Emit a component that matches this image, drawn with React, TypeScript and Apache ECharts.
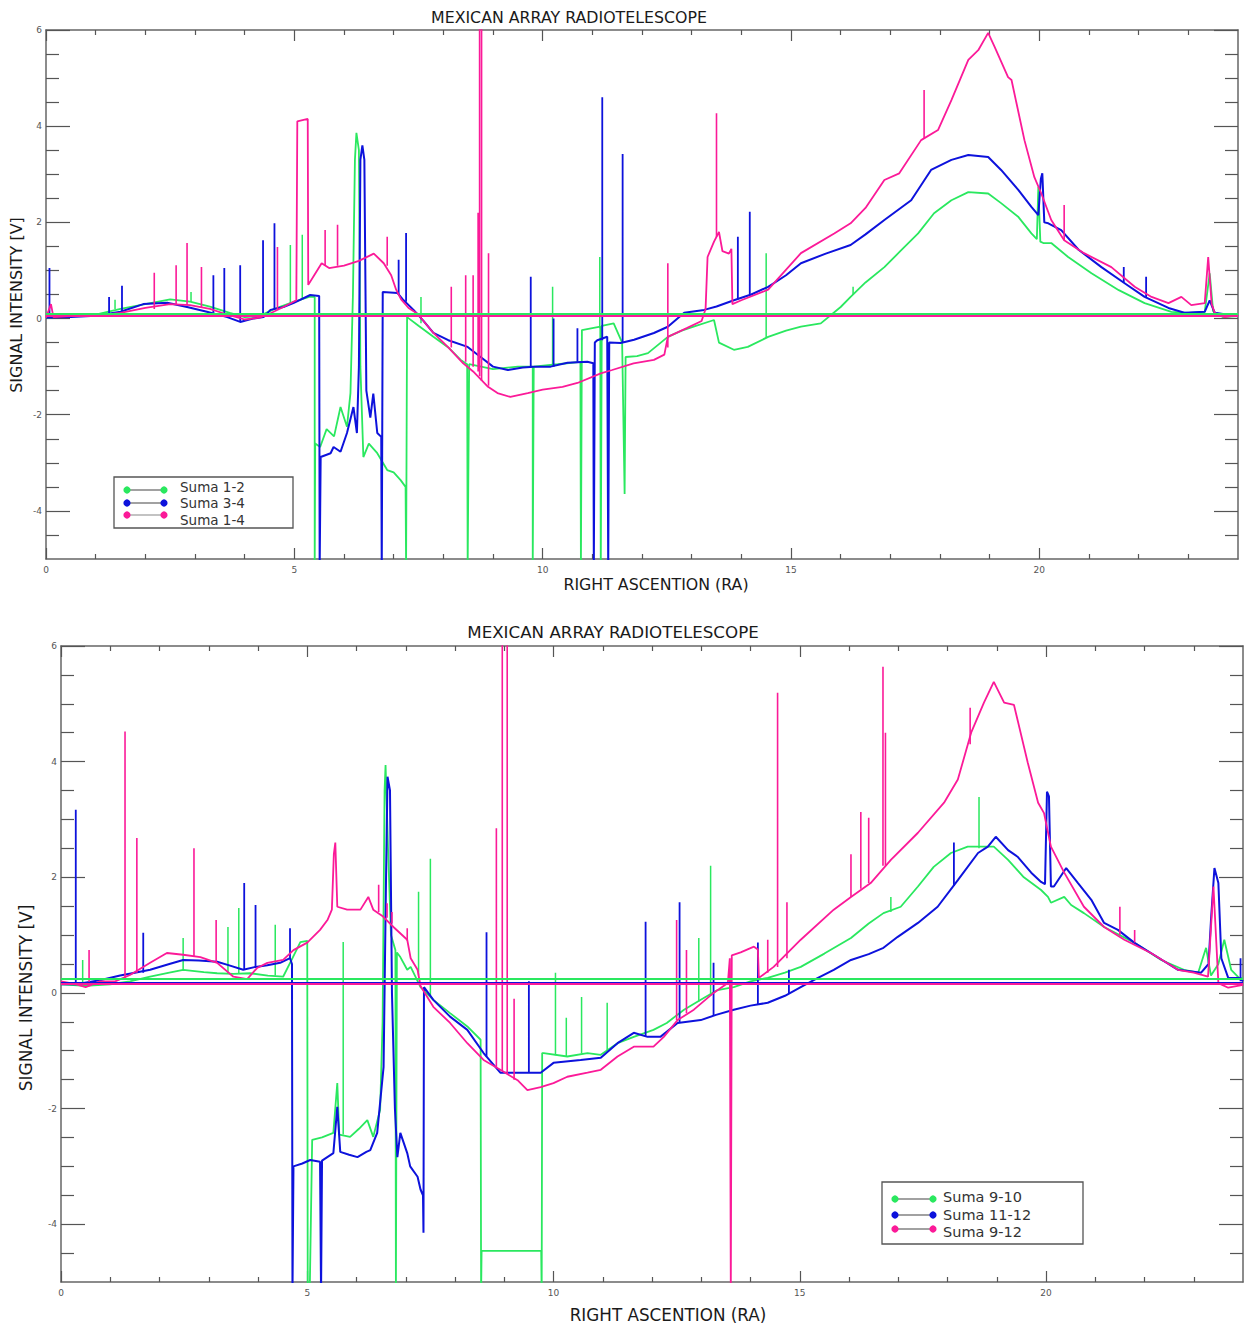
import React, { useEffect, useRef } from "react";
import * as echarts from "echarts";

const GREEN = "#2ae85f";
const BLUE = "#0d12dc";
const MAGENTA = "#fb1a98";

const xMajorTicks = [0, 5, 10, 15, 20];
const xMinorTicks = [1, 2, 3, 4, 6, 7, 8, 9, 11, 12, 13, 14, 16, 17, 18, 19, 21, 22, 23];
const yMajorTicks = [-4, -2, 0, 2, 4, 6];
const yMinorTicks = [-4.5, -3.5, -3, -2.5, -1.5, -1, -0.5, 0.5, 1, 1.5, 2.5, 3, 3.5, 4.5, 5, 5.5];

const topLegend = ["Suma 1-2", "Suma 3-4", "Suma 1-4"];
const botLegend = ["Suma 9-10", "Suma 11-12", "Suma 9-12"];

// baseline reference levels
const topRef = { green: 0.1, magenta: 0.06 };
const botRef = { green: 0.25, blue: 0.185, magenta: 0.15 };

// ---------------- TOP PANEL ----------------
const topGreen = [
  [0, 0.02], [0.5, 0.05], [1.0, 0.08], [1.5, 0.2], [2.0, 0.3], [2.5, 0.4], [2.9, 0.35], [3.3, 0.25], [3.7, 0.12],
  [4.0, 0.03], [4.3, 0.05], [4.6, 0.2], [5.0, 0.35], [5.3, 0.45], [5.41, 0.45], [5.41, -5.2], [5.42, -2.6],
  [5.52, -2.67], [5.65, -2.3], [5.8, -2.45], [5.93, -1.84], [6.06, -2.25], [6.13, -1.55], [6.18, 0.5], [6.22, 3.3],
  [6.25, 3.86], [6.3, 3.5], [6.33, -1.0], [6.39, -2.88], [6.5, -2.6], [6.67, -2.8], [6.87, -3.15], [7.0, -3.2],
  [7.14, -3.36], [7.24, -3.5], [7.25, -5.2], [7.27, 0.03], [7.5, -0.15], [7.8, -0.38], [8.1, -0.6], [8.35, -0.86],
  [8.48, -0.95], [8.49, -5.2], [8.52, -0.95], [9.0, -1.05], [9.5, -1.0], [9.8, -1.0], [9.8, -5.2], [9.82, -1.0],
  [10.3, -0.95], [10.76, -0.9], [10.77, -5.2], [10.79, -0.24], [11.0, -0.2], [11.16, -0.17], [11.17, -5.2],
  [11.19, -0.15], [11.43, -0.1], [11.6, -0.5], [11.65, -3.65], [11.67, -0.8], [11.9, -0.78], [12.12, -0.72],
  [12.52, -0.38], [12.8, -0.25], [13.04, -0.17], [13.45, -0.03], [13.55, -0.5], [13.85, -0.65], [14.13, -0.59],
  [14.54, -0.38], [14.9, -0.25], [15.2, -0.17], [15.6, -0.1], [16.0, 0.24], [16.2, 0.45], [16.5, 0.75],
  [16.88, 1.07], [17.2, 1.4], [17.56, 1.77], [17.88, 2.19], [18.23, 2.46], [18.57, 2.63], [18.97, 2.6],
  [19.23, 2.4], [19.58, 2.11], [19.84, 1.77], [19.95, 1.65], [19.98, 2.74], [20.02, 1.6], [20.08, 1.57],
  [20.24, 1.57], [20.58, 1.28], [21.05, 0.94], [21.6, 0.59], [22.12, 0.32], [22.66, 0.14], [23.0, 0.12],
  [23.33, 0.14], [23.43, 0.94], [23.5, 0.15], [23.7, 0.03], [24, 0.05],
];
const topGreenSpikes = [
  [1.39, 0.2, 0.39], [2.92, 0.35, 0.55], [4.92, 0.3, 1.53], [5.16, 0.4, 1.74], [7.55, -0.1, 0.45],
  [10.2, -0.95, 0.66], [11.15, -0.2, 1.28], [14.5, -0.4, 1.36], [16.25, 0.5, 0.66],
];

const topBlue = [
  [0, 0.02], [0.5, 0.03], [1.0, 0.06], [1.5, 0.14], [1.96, 0.3], [2.44, 0.33], [2.84, 0.24], [3.24, 0.14],
  [3.65, 0.03], [3.91, -0.07], [4.17, 0.0], [4.38, 0.03], [4.52, 0.18], [4.78, 0.24], [4.98, 0.32], [5.32, 0.49],
  [5.5, 0.47], [5.51, -5.2], [5.53, -2.88], [5.73, -2.8], [5.79, -2.67], [5.93, -2.77], [6.06, -2.38],
  [6.19, -1.84], [6.26, -2.38], [6.3, -1.0], [6.33, 3.3], [6.37, 3.6], [6.41, 3.3], [6.45, -1.5], [6.53, -2.06],
  [6.59, -1.56], [6.67, -2.38], [6.75, -2.46], [6.76, -5.2], [6.78, 0.55], [7.08, 0.53], [7.2, 0.38], [7.4, 0.18],
  [7.6, -0.05], [7.8, -0.3], [8.1, -0.45], [8.49, -0.59], [8.75, -0.8], [9.0, -1.0], [9.3, -1.07], [9.6, -1.02],
  [9.82, -1.0], [10.16, -1.0], [10.5, -0.92], [10.9, -0.9], [11.02, -0.93], [11.03, -5.2], [11.05, -0.5],
  [11.1, -0.45], [11.3, -0.38], [11.32, -5.2], [11.34, -0.5], [11.57, -0.51], [11.84, -0.44], [12.24, -0.3],
  [12.52, -0.17], [12.85, 0.12], [13.25, 0.18], [13.5, 0.25], [13.85, 0.38], [14.2, 0.5], [14.54, 0.66],
  [14.9, 0.9], [15.2, 1.15], [15.7, 1.35], [16.2, 1.53], [16.5, 1.75], [16.88, 2.05], [17.42, 2.46],
  [17.82, 3.09], [18.23, 3.3], [18.57, 3.4], [18.97, 3.36], [19.23, 3.09], [19.58, 2.67], [19.84, 2.32],
  [19.98, 2.15], [20.03, 2.9], [20.06, 3.02], [20.1, 2.0], [20.18, 1.98], [20.44, 1.84], [20.79, 1.43],
  [21.25, 1.07], [21.71, 0.74], [22.12, 0.45], [22.6, 0.22], [22.92, 0.12], [23.33, 0.14], [23.43, 0.38],
  [23.53, 0.12], [24, 0.05],
];
const topBlueSpikes = [
  [0.07, 0.02, 1.05], [1.27, 0.1, 0.45], [1.53, 0.12, 0.68], [3.37, 0.12, 0.9], [3.59, 0.05, 1.05],
  [3.91, -0.07, 1.11], [4.37, 0.03, 1.63], [4.6, 0.2, 1.98], [7.1, 0.5, 1.22], [7.25, 0.35, 1.78],
  [9.76, -1.0, 0.87], [10.22, -1.0, 0.0], [10.7, -0.9, -0.2], [11.2, -0.45, 4.6], [11.61, -0.5, 3.42],
  [13.93, 0.4, 1.7], [14.17, 0.5, 2.22], [21.7, 0.74, 1.07], [22.15, 0.45, 0.87],
];

const topMagenta = [
  [0, 0.02], [0.1, 0.3], [0.15, 0.03], [0.5, 0.05], [1.0, 0.06], [1.5, 0.12], [2.0, 0.22], [2.5, 0.3],
  [2.9, 0.28], [3.3, 0.2], [3.6, 0.1], [3.8, 0.04], [4.0, -0.02], [4.3, 0.02], [4.5, 0.1], [4.8, 0.25],
  [5.04, 0.38], [5.06, 4.1], [5.27, 4.15], [5.28, 0.7], [5.4, 0.9], [5.55, 1.15], [5.7, 1.05], [6.0, 1.1],
  [6.3, 1.2], [6.6, 1.35], [6.8, 1.15], [6.95, 0.9], [7.05, 0.6], [7.15, 0.4], [7.3, 0.22], [7.48, 0.1],
  [7.8, -0.3], [8.1, -0.6], [8.4, -0.93], [8.6, -1.1], [8.9, -1.42], [9.09, -1.55], [9.35, -1.63], [9.7, -1.55],
  [10.0, -1.48], [10.4, -1.42], [10.7, -1.34], [11.17, -1.14], [11.4, -1.07], [11.83, -0.93], [12.24, -0.86],
  [12.45, -0.75], [12.52, -0.38], [12.9, -0.2], [13.2, -0.05], [13.28, 0.2], [13.32, 1.28], [13.45, 1.6],
  [13.55, 1.8], [13.62, 1.4], [13.75, 1.35], [13.8, 1.45], [13.82, 0.3], [14.0, 0.38], [14.54, 0.6],
  [15.2, 1.36], [15.87, 1.77], [16.2, 1.98], [16.5, 2.3], [16.88, 2.88], [17.18, 3.02], [17.62, 3.71],
  [17.96, 3.92], [18.23, 4.54], [18.57, 5.38], [18.77, 5.58], [18.97, 5.94], [19.1, 5.65], [19.37, 5.02],
  [19.44, 4.96], [19.7, 3.71], [19.9, 2.94], [20.04, 2.6], [20.24, 2.05], [20.5, 1.63], [20.9, 1.36],
  [21.45, 1.07], [21.92, 0.66], [22.26, 0.45], [22.6, 0.32], [22.86, 0.45], [23.06, 0.28], [23.33, 0.32],
  [23.4, 1.28], [23.47, 0.3], [23.53, 0.12], [23.73, 0.03], [24, 0.07],
];
const topMagentaSpikes = [
  [2.18, 0.2, 0.95], [2.62, 0.28, 1.11], [2.84, 0.28, 1.57], [3.13, 0.22, 1.07], [4.66, 0.2, 1.49],
  [5.62, 1.1, 1.84], [5.87, 1.1, 1.95], [6.87, 1.1, 1.7], [8.16, -0.6, 0.66], [8.45, -0.9, 0.9],
  [8.6, -1.0, 0.9], [8.7, -1.1, 2.2], [8.73, -1.2, 6.5], [8.77, -1.3, 6.5], [8.91, -1.4, 1.36],
  [12.52, -0.6, 1.15], [13.5, 1.7, 4.27], [17.68, 3.75, 4.75], [20.5, 1.63, 2.36],
];

// ---------------- BOTTOM PANEL ----------------
const botGreen = [
  [0, 0.15], [0.5, 0.12], [1.0, 0.15], [1.4, 0.2], [1.81, 0.28], [2.2, 0.35], [2.48, 0.4], [2.9, 0.36],
  [3.17, 0.34], [3.5, 0.33], [3.84, 0.34], [4.2, 0.3], [4.51, 0.28], [4.7, 0.6], [4.86, 0.88], [5.0, 0.9],
  [5.01, -5.2], [5.05, -5.2], [5.1, -2.54], [5.3, -2.5], [5.53, -2.42], [5.61, -1.56], [5.65, -2.45],
  [5.87, -2.49], [6.05, -2.35], [6.22, -2.2], [6.34, -2.49], [6.48, -2.02], [6.53, -0.5], [6.57, 3.5],
  [6.59, 3.94], [6.64, 2.5], [6.7, 1.0], [6.79, 0.74], [6.8, -5.2], [6.82, 0.7], [6.89, 0.62], [7.03, 0.4],
  [7.1, 0.45], [7.3, 0.1], [7.56, -0.12], [7.9, -0.35], [8.25, -0.58], [8.52, -0.81], [8.53, -5.2],
  [8.54, -4.46], [9.75, -4.46], [9.76, -5.2], [9.77, -1.04], [9.8, -1.04], [10.28, -1.1], [10.69, -1.04],
  [10.96, -1.07], [11.3, -0.87], [11.63, -0.76], [12.03, -0.64], [12.3, -0.52], [12.65, -0.29], [12.99, -0.12],
  [13.33, 0.05], [13.66, 0.1], [14.0, 0.2], [14.35, 0.26], [14.7, 0.35], [15.02, 0.45], [15.5, 0.68],
  [16.04, 0.95], [16.4, 1.2], [16.7, 1.38], [17.05, 1.49], [17.4, 1.84], [17.72, 2.18], [18.07, 2.42],
  [18.41, 2.53], [18.82, 2.53], [18.94, 2.53], [19.23, 2.3], [19.55, 2.0], [19.9, 1.78], [20.04, 1.66],
  [20.1, 1.56], [20.37, 1.66], [20.51, 1.52], [20.77, 1.38], [21.18, 1.14], [21.79, 0.87], [22.34, 0.57],
  [22.8, 0.4], [23.09, 0.35], [23.25, 0.78], [23.35, 0.3], [23.5, 0.5], [23.62, 0.92], [23.76, 0.4],
  [23.92, 0.26], [24, 0.25],
];
const botGreenSpikes = [
  [0.44, 0.12, 0.57], [2.48, 0.4, 0.95], [3.39, 0.34, 1.14], [3.61, 0.34, 1.47], [4.35, 0.3, 1.18],
  [5.73, -2.45, 0.88], [7.26, 0.3, 1.75], [7.5, -0.05, 2.32], [10.04, -1.08, 0.35], [10.26, -1.1, -0.43],
  [10.57, -1.05, -0.07], [11.09, -1.0, -0.17], [12.95, -0.15, 0.95], [13.19, -0.05, 2.2], [16.85, 1.4, 1.66],
  [18.64, 2.5, 3.39],
];

const botBlue = [
  [0, 0.15], [0.3, 0.15], [0.79, 0.22], [1.2, 0.3], [1.5, 0.35], [1.81, 0.4], [2.2, 0.5], [2.48, 0.57],
  [2.8, 0.56], [3.17, 0.54], [3.4, 0.48], [3.7, 0.4], [3.95, 0.45], [4.19, 0.48], [4.45, 0.52], [4.65, 0.6],
  [4.69, 0.5], [4.7, -5.2], [4.72, -3.0], [4.9, -2.95], [5.06, -2.89], [5.26, -2.92], [5.28, -5.2], [5.3, -2.9],
  [5.53, -2.77], [5.61, -1.97], [5.67, -2.75], [5.85, -2.8], [6.02, -2.84], [6.2, -2.75], [6.28, -2.72],
  [6.42, -2.42], [6.55, -1.28], [6.6, 2.0], [6.63, 3.74], [6.68, 3.5], [6.72, 0.0], [6.78, -2.0], [6.83, -2.84],
  [6.89, -2.42], [7.03, -2.77], [7.09, -3.0], [7.24, -3.18], [7.3, -3.4], [7.35, -3.5], [7.36, -4.15],
  [7.37, 0.1], [7.56, -0.12], [7.9, -0.41], [8.25, -0.64], [8.58, -1.04], [8.92, -1.38], [9.33, -1.38],
  [9.74, -1.38], [10.0, -1.21], [10.55, -1.16], [10.96, -1.12], [11.3, -0.87], [11.63, -0.69], [11.91, -0.76],
  [12.17, -0.76], [12.52, -0.52], [12.99, -0.47], [13.3, -0.38], [13.66, -0.29], [14.0, -0.22], [14.35, -0.17],
  [14.7, -0.05], [15.02, 0.1], [15.35, 0.25], [15.69, 0.4], [16.04, 0.57], [16.4, 0.67], [16.7, 0.78],
  [16.99, 0.97], [17.4, 1.21], [17.8, 1.49], [18.21, 1.95], [18.62, 2.42], [18.82, 2.53], [18.98, 2.7],
  [19.23, 2.47], [19.43, 2.35], [19.7, 2.08], [19.9, 1.92], [19.98, 1.88], [20.02, 3.48], [20.06, 3.4],
  [20.1, 1.84], [20.16, 1.84], [20.41, 2.16], [20.65, 1.9], [20.92, 1.61], [21.18, 1.21], [21.46, 1.09],
  [21.79, 0.87], [22.13, 0.69], [22.68, 0.4], [23.15, 0.35], [23.3, 0.5], [23.35, 1.26], [23.42, 2.16],
  [23.5, 1.9], [23.56, 0.6], [23.7, 0.26], [23.92, 0.26], [24, 0.2],
];
const botBlueSpikes = [
  [0.3, 0.15, 3.17], [1.67, 0.35, 1.04], [3.72, 0.4, 1.9], [3.95, 0.45, 1.52], [4.65, 0.6, 1.12],
  [8.64, -1.1, 1.05], [9.5, -1.38, 0.2], [11.87, -0.75, 1.23], [12.56, -0.52, 1.57], [13.25, -0.4, 0.52],
  [14.15, -0.2, 0.87], [14.78, 0.0, 0.4], [18.13, 1.85, 2.6], [23.95, 0.2, 0.6],
];

const botMagenta = [
  [0, 0.2], [0.3, 0.15], [0.5, 0.1], [0.79, 0.2], [1.1, 0.2], [1.4, 0.31], [1.81, 0.52], [2.15, 0.69],
  [2.48, 0.66], [2.83, 0.62], [3.17, 0.52], [3.5, 0.28], [3.78, 0.24], [3.98, 0.43], [4.19, 0.52], [4.51, 0.57],
  [4.72, 0.74], [5.0, 0.87], [5.26, 1.09], [5.41, 1.26], [5.5, 1.44], [5.54, 2.4], [5.57, 2.6], [5.61, 1.49],
  [5.81, 1.44], [6.08, 1.44], [6.24, 1.66], [6.34, 1.44], [6.54, 1.32], [6.75, 1.14], [7.03, 0.92], [7.1, 0.6],
  [7.24, 0.4], [7.3, 0.12], [7.56, -0.24], [7.9, -0.52], [8.25, -0.87], [8.58, -1.16], [8.92, -1.33],
  [9.27, -1.51], [9.47, -1.68], [9.74, -1.63], [10.0, -1.56], [10.28, -1.45], [10.69, -1.38], [10.96, -1.33],
  [11.3, -1.1], [11.63, -0.93], [12.03, -0.93], [12.24, -0.76], [12.52, -0.47], [12.85, -0.29], [13.25, 0.0],
  [13.54, 0.17], [13.58, 0.6], [13.6, -5.2], [13.62, 0.65], [13.8, 0.7], [14.07, 0.8], [14.15, 0.75],
  [14.17, 0.26], [14.47, 0.45], [15.02, 0.92], [15.69, 1.44], [16.04, 1.66], [16.44, 1.9], [16.85, 2.3],
  [17.4, 2.77], [17.93, 3.29], [18.21, 3.69], [18.48, 4.5], [18.74, 5.02], [18.94, 5.38], [19.15, 5.02],
  [19.35, 4.98], [19.63, 3.98], [19.84, 3.29], [19.96, 3.11], [20.1, 2.53], [20.37, 2.08], [20.77, 1.49],
  [21.18, 1.14], [21.59, 0.92], [22.13, 0.69], [22.68, 0.4], [23.0, 0.35], [23.29, 0.28], [23.4, 1.84],
  [23.5, 0.17], [23.7, 0.09], [24, 0.14],
];
const botMagentaSpikes = [
  [0.57, 0.15, 0.74], [1.3, 0.25, 4.52], [1.54, 0.35, 2.68], [2.7, 0.62, 2.5], [3.15, 0.52, 1.26],
  [6.45, 1.4, 1.87], [6.62, 1.3, 1.55], [6.72, 1.2, 1.4], [7.03, 0.9, 1.12], [8.84, -1.3, 2.85],
  [8.96, -1.35, 6.5], [9.06, -1.4, 6.5], [9.2, -1.5, -0.1], [12.5, -0.47, 1.26], [12.7, -0.35, 0.74],
  [14.35, 0.35, 0.92], [14.55, 0.45, 5.19], [14.74, 0.6, 1.57], [16.04, 1.66, 2.4], [16.24, 1.8, 3.13],
  [16.4, 1.9, 3.03], [16.69, 2.2, 5.64], [16.74, 2.2, 4.5], [18.46, 4.3, 4.93], [21.5, 1.0, 1.49],
  [21.8, 0.87, 1.09],
];

function spikeData(spikes: number[][]) {
  const out: any[] = [];
  spikes.forEach(([x, b, p]) => {
    out.push([x, b], [x, p], [x, b], [x, "-"]);
  });
  return out;
}

const AX = "#666";
const TK = "#555";

function xAxesFor(grid: number) {
  const base = { gridIndex: grid, type: "value", min: 0, max: 24, splitLine: { show: false } };
  const line = { show: true, onZero: false, lineStyle: { color: AX, width: 1.5 } };
  const major = { show: true, inside: true, length: 11, customValues: xMajorTicks, lineStyle: { color: TK, width: 1.2 } };
  const minor = { show: true, inside: true, length: 5, customValues: xMinorTicks, lineStyle: { color: TK, width: 1.2 } };
  return [
    { ...base, position: "bottom", axisLine: line, axisTick: major,
      axisLabel: { show: true, customValues: xMajorTicks, fontSize: 9, color: "#555", margin: 6, fontFamily: "DejaVu Sans" } },
    { ...base, position: "bottom", axisLine: { show: false, onZero: false }, axisTick: minor, axisLabel: { show: false } },
    { ...base, position: "top", axisLine: line, axisTick: major, axisLabel: { show: false } },
    { ...base, position: "top", axisLine: { show: false, onZero: false }, axisTick: minor, axisLabel: { show: false } },
  ];
}

function yAxesFor(grid: number) {
  const base = { gridIndex: grid, type: "value", min: -5, max: 6, splitLine: { show: false } };
  const line = { show: true, onZero: false, lineStyle: { color: AX, width: 1.5 } };
  const major = { show: true, inside: true, length: 24, customValues: yMajorTicks, lineStyle: { color: TK, width: 1.2 } };
  const minor = { show: true, inside: true, length: 13, customValues: yMinorTicks, lineStyle: { color: TK, width: 1.2 } };
  return [
    { ...base, position: "left", axisLine: line, axisTick: major,
      axisLabel: { show: true, customValues: yMajorTicks, fontSize: 9, color: "#555", margin: 4, fontFamily: "DejaVu Sans" } },
    { ...base, position: "left", axisLine: { show: false, onZero: false }, axisTick: minor, axisLabel: { show: false } },
    { ...base, position: "right", axisLine: line, axisTick: major, axisLabel: { show: false } },
    { ...base, position: "right", axisLine: { show: false, onZero: false }, axisTick: minor, axisLabel: { show: false } },
  ];
}

function lineSeries(name: string, data: any[], color: string, axis: number, width: number, z: number, refY?: number) {
  const s: any = {
    type: "line",
    name,
    data,
    xAxisIndex: axis,
    yAxisIndex: axis,
    showSymbol: false,
    symbol: "none",
    connectNulls: false,
    silent: true,
    clip: true,
    z,
    lineStyle: { color, width },
    itemStyle: { color },
  };
  if (refY !== undefined) {
    s.markLine = {
      silent: true,
      symbol: ["none", "none"],
      label: { show: false },
      lineStyle: { color, width: 1.8, type: "solid" },
      data: [{ yAxis: refY }],
    };
  }
  return s;
}

function textEl(text: string, x: number, y: number, size: number, rotation = 0, align = "center") {
  return {
    type: "text",
    x,
    y,
    rotation,
    z: 100,
    style: {
      text,
      fill: "#1a1a1a",
      font: `${size}px "DejaVu Sans"`,
      fontSize: size,
      fontFamily: "DejaVu Sans",
      textAlign: align,
      align,
      textVerticalAlign: "middle",
      verticalAlign: "middle",
    },
  };
}

function legendEl(
  box: number[], names: string[], colors: string[], dotX: number[], dotY: number[],
  textX: number, textY: number[], size: number, lineColors: string[]
) {
  const children: any[] = [
    { type: "rect", shape: { x: box[0], y: box[1], width: box[2], height: box[3] },
      style: { fill: "#fff", stroke: "#555", lineWidth: 1.3 } },
  ];
  names.forEach((n, i) => {
    children.push({ type: "line", shape: { x1: dotX[0], y1: dotY[i], x2: dotX[1], y2: dotY[i] },
      style: { stroke: lineColors[i], lineWidth: 1.2 } });
    children.push({ type: "circle", shape: { cx: dotX[0], cy: dotY[i], r: 3.6 }, style: { fill: colors[i] } });
    children.push({ type: "circle", shape: { cx: dotX[1], cy: dotY[i], r: 3.6 }, style: { fill: colors[i] } });
    children.push({ type: "text", x: textX, y: textY[i],
      style: { text: n, fill: "#333", font: `${size}px "DejaVu Sans"`, fontSize: size, fontFamily: "DejaVu Sans",
        textAlign: "left", align: "left", textVerticalAlign: "middle", verticalAlign: "middle" } });
  });
  return { type: "group", z: 100, children };
}

export default function App() {
  const ref = useRef<HTMLDivElement>(null);
  useEffect(() => {
    if (!ref.current) return;
    const chart = echarts.init(ref.current, undefined, { renderer: "svg" });
    const option: any = {
      animation: false,
      backgroundColor: "#ffffff",
      grid: [
        { left: 46, top: 30, width: 1192, height: 529, containLabel: false },
        { left: 61, top: 646, width: 1182, height: 636, containLabel: false },
      ],
      xAxis: [...xAxesFor(0), ...xAxesFor(1)],
      yAxis: [...yAxesFor(0), ...yAxesFor(1)],
      series: [
        lineSeries("Suma 1-2", topGreen, GREEN, 0, 1.8, 2, topRef.green),
        lineSeries("Suma 1-2 s", spikeData(topGreenSpikes), GREEN, 0, 1.5, 2),
        lineSeries("Suma 3-4", topBlue, BLUE, 0, 2, 3),
        lineSeries("Suma 3-4 s", spikeData(topBlueSpikes), BLUE, 0, 1.8, 3),
        lineSeries("Suma 1-4", topMagenta, MAGENTA, 0, 1.8, 4, topRef.magenta),
        lineSeries("Suma 1-4 s", spikeData(topMagentaSpikes), MAGENTA, 0, 1.6, 4),
        lineSeries("Suma 9-10", botGreen, GREEN, 4, 1.8, 2, botRef.green),
        lineSeries("Suma 9-10 s", spikeData(botGreenSpikes), GREEN, 4, 1.5, 2),
        lineSeries("Suma 11-12", botBlue, BLUE, 4, 2, 3, botRef.blue),
        lineSeries("Suma 11-12 s", spikeData(botBlueSpikes), BLUE, 4, 1.8, 3),
        lineSeries("Suma 9-12", botMagenta, MAGENTA, 4, 1.8, 4, botRef.magenta),
        lineSeries("Suma 9-12 s", spikeData(botMagentaSpikes), MAGENTA, 4, 1.6, 4),
      ],
      graphic: [
        textEl("MEXICAN ARRAY RADIOTELESCOPE", 569, 17, 15.8),
        textEl("SIGNAL INTENSITY [V]", 16, 305, 16, Math.PI / 2),
        textEl("RIGHT ASCENTION (RA)", 656, 584, 15.8),
        textEl("MEXICAN ARRAY RADIOTELESCOPE", 613, 632, 16.7),
        textEl("SIGNAL INTENSITY [V]", 26, 998, 17, Math.PI / 2),
        textEl("RIGHT ASCENTION (RA)", 668, 1315, 16.8),
        legendEl([114, 477, 179, 51], topLegend, [GREEN, BLUE, MAGENTA], [127, 164], [490, 503, 515],
          180, [487, 503, 520], 13.5, ["#444", "#444", "#888"]),
        legendEl([882, 1182, 201, 62], botLegend, [GREEN, BLUE, MAGENTA], [895, 933], [1199, 1215, 1229],
          943, [1197, 1215, 1232], 14.5, ["#444", "#444", "#444"]),
      ],
    };
    chart.setOption(option);
    return () => chart.dispose();
  }, []);
  return (
    <div
      ref={ref}
      style={{ position: "absolute", left: 0, top: 0, width: 1252, height: 1325, background: "#fff" }}
    />
  );
}
